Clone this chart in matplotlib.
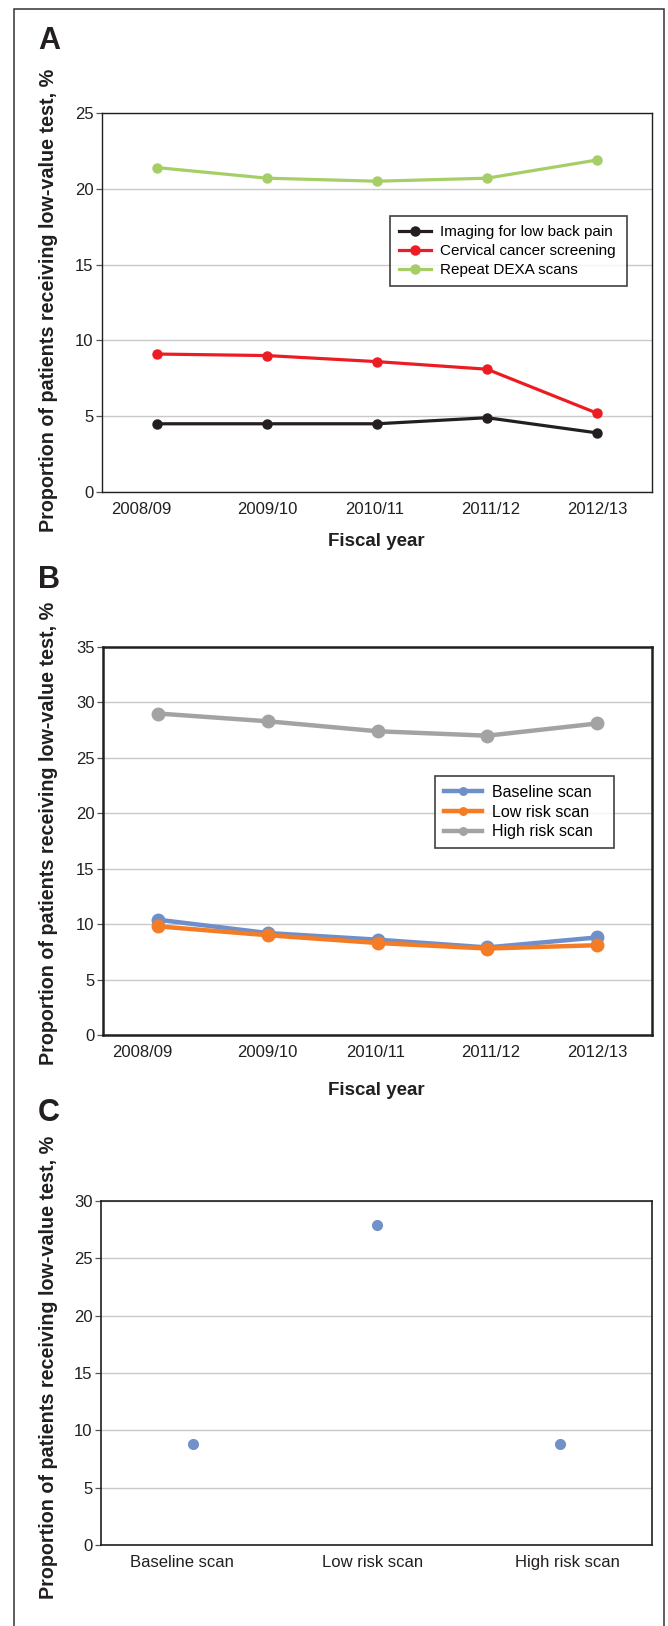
import matplotlib
matplotlib.use("Agg")
import matplotlib.pyplot as plt
from matplotlib.patches import Rectangle

plt.rcParams['font.family'] = ['Liberation Sans', 'DejaVu Sans']

W, H = 668, 1626

years = ["2008/09", "2009/10", "2010/11", "2011/12", "2012/13"]

# panel A
back_pain = [4.5, 4.5, 4.5, 4.9, 3.9]
cervical = [9.1, 9.0, 8.6, 8.1, 5.2]
dexa = [21.4, 20.7, 20.5, 20.7, 21.9]

# panel B
baseline = [10.4, 9.2, 8.6, 7.9, 8.8]
low_risk = [9.8, 9.0, 8.3, 7.8, 8.1]
high_risk = [29.0, 28.3, 27.4, 27.0, 28.1]

# panel C
scan_types = ["Baseline scan", "Low risk scan", "High risk scan"]
scan_values = [8.85, 27.95, 8.85]

# the source draws its category labels a bit off the points
year_label_pos = [-0.14, 1.0, 1.98, 3.03, 4.0]
scan_label_pos = [-0.06, 0.98, 2.04]

ylab = "Proportion of patients receiving low-value test, %"
txt = "#231F20"
grid = "#C9C9C9"


def box(left, top, right, bottom):
    # pixel box -> figure fraction rect
    return [left / W, 1 - bottom / H, (right - left) / W, (bottom - top) / H]


def style(ax, spine_w, ymax, step):
    ax.set_ylim(0, ymax)
    ax.set_yticks(range(0, ymax + 1, step))
    ax.yaxis.grid(True, color=grid, lw=1)
    ax.set_axisbelow(True)
    for s in ax.spines.values():
        s.set_color(txt)
        s.set_linewidth(spine_w)
    ax.tick_params(axis='y', length=4, width=0.9, color="#555555", labelsize=12, labelcolor=txt, pad=2)
    ax.tick_params(axis='x', length=0, labelsize=12, labelcolor=txt, pad=7)


def leg_box(ax, l, t, r, b, ax_px):
    # legend frame given in pixels -> axes coords (x0, y0, w, h)
    al, at, ar, ab = ax_px
    return ((l - al) / (ar - al), (ab - b) / (ab - at), (r - l) / (ar - al), (b - t) / (ab - at))


fig = plt.figure(figsize=(W / 100, H / 100), dpi=100)

# outer frame
fig.add_artist(Rectangle((14 / W, -0.01), (664 - 14) / W, 1.01 - 9 / H,
                         transform=fig.transFigure, fill=False, ec="#333333", lw=1.1))

# ---- A
posA = (102, 113, 652, 492)
axA = fig.add_axes(box(*posA))
x = range(len(years))
axA.plot(x, back_pain, '-o', color="#231F20", lw=2.3, ms=6.5, label="Imaging for low back pain")
axA.plot(x, cervical, '-o', color="#EC1C24", lw=2.3, ms=6.5, label="Cervical cancer screening")
axA.plot(x, dexa, '-o', color="#A6CE66", lw=2.3, ms=6.5, label="Repeat DEXA scans")
axA.set_xlim(-0.5, len(years) - 0.5)
axA.set_xticks(year_label_pos)
axA.set_xticklabels(years)
style(axA, 1.0, 25, 5)
legA = axA.legend(loc='upper left', bbox_to_anchor=leg_box(axA, 390, 216, 627, 292, posA),
                  mode='expand', fontsize=11, frameon=True, fancybox=False, edgecolor="#111111",
                  handlelength=2.1, borderpad=0.6, labelspacing=0.32, handletextpad=0.6,
                  borderaxespad=0)
legA.get_frame().set_linewidth(1.2)
fig.text(376 / W, 1 - 542 / H, "Fiscal year", ha='center', va='center',
         fontsize=13.5, fontweight='bold', color=txt)

# ---- B
posB = (103, 647, 652, 1035)
axB = fig.add_axes(box(*posB))
axB.plot(x, baseline, '-o', color="#6F8FCB", lw=3.2, ms=9, label="Baseline scan")
axB.plot(x, low_risk, '-o', color="#F47C26", lw=3.2, ms=9, label="Low risk scan")
axB.plot(x, high_risk, '-o', color="#A3A3A3", lw=3.2, ms=9, label="High risk scan")
axB.set_xlim(-0.5, len(years) - 0.5)
axB.set_xticks(year_label_pos)
axB.set_xticklabels(years)
style(axB, 1.8, 35, 5)
legB = axB.legend(loc='upper left', bbox_to_anchor=leg_box(axB, 435, 776, 614, 847, posB),
                  mode='expand', fontsize=11.5, frameon=True, fancybox=False, edgecolor="#111111",
                  handlelength=2.4, borderpad=0.55, labelspacing=0.3, handletextpad=0.6,
                  markerscale=0.6, borderaxespad=0)
legB.get_frame().set_linewidth(1.2)
fig.text(376 / W, 1 - 1090 / H, "Fiscal year", ha='center', va='center',
         fontsize=13.5, fontweight='bold', color=txt)

# ---- C
posC = (101, 1201, 652, 1545)
axC = fig.add_axes(box(*posC))
xc = range(len(scan_types))
axC.plot(xc, scan_values, 'o', color="#7291C9", ms=7)
axC.set_xlim(-0.5, len(scan_types) - 0.5)
axC.set_xticks(scan_label_pos)
axC.set_xticklabels(scan_types)
style(axC, 1.2, 30, 5)

# panel letters and y labels
for letter, ly, cy in [("A", 41, 300), ("B", 580, 833), ("C", 1113, 1367)]:
    fig.text(49 / W, 1 - ly / H, letter, ha='center', va='center',
             fontsize=22, fontweight='bold', color=txt)
    fig.text(49 / W, 1 - cy / H, ylab, ha='center', va='center', rotation=90,
             fontsize=14.2, fontweight='bold', color=txt)

fig.savefig("out.png", dpi=100)
